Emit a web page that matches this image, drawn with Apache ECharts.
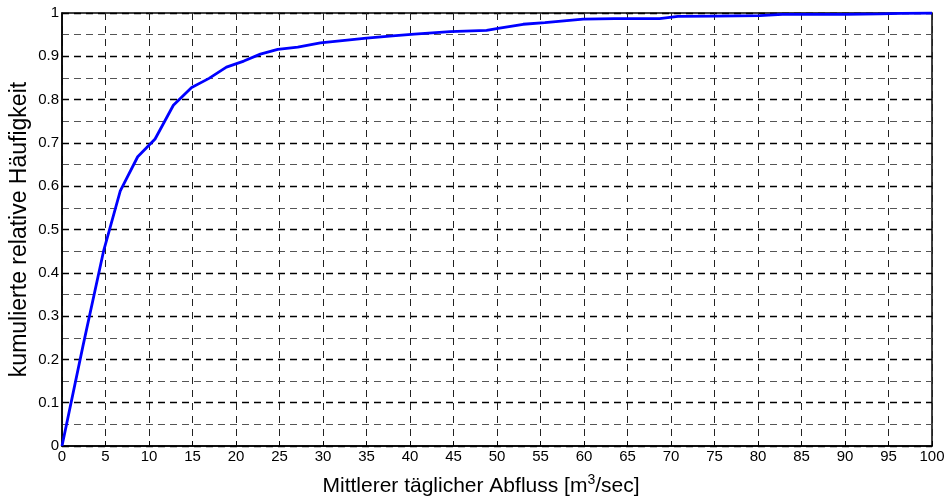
<!DOCTYPE html>
<html><head><meta charset="utf-8">
<script src="https://cdn.jsdelivr.net/npm/echarts@6/dist/echarts.min.js"></script>
<style>html,body{margin:0;padding:0;background:#fff}#c{width:949px;height:501px}</style>
</head><body><div id="c"></div>
<script>
const flowX = [0, 2.4, 4.8, 6.7, 8.7, 10.7, 12.8, 14.9, 16.9, 18.9, 20.9, 22.8, 24.8, 27.1, 29.7, 32.5, 35, 38, 40.5, 44.6, 48.8, 50.3, 53, 55.5, 59.9, 63.5, 68.7, 70.8, 75, 80.2, 82.8, 90, 94, 96.5, 100];
const cumFreq = [0, 0.23, 0.452, 0.589, 0.668, 0.709, 0.787, 0.828, 0.849, 0.875, 0.889, 0.905, 0.916, 0.921, 0.931, 0.937, 0.942, 0.947, 0.951, 0.957, 0.960, 0.965, 0.974, 0.978, 0.986, 0.987, 0.987, 0.992, 0.993, 0.994, 0.997, 0.997, 0.998, 0.999, 1.0];
const xLabel = 'Mittlerer täglicher Abfluss [m';
const yLabel = 'kumulierte relative Häufigkeit';

const chart = echarts.init(document.getElementById('c'), null, {renderer: 'canvas'});
const font = 'Liberation Sans, Arial, sans-serif';
chart.setOption({
  animation: false,
  grid: {left: 62, right: 17, top: 13, bottom: 55, show: true, borderColor: '#000', borderWidth: 1.5, containLabel: false, outerBoundsMode: 'none'},
  xAxis: {
    type: 'value', min: 0, max: 100, interval: 5,
    name: '{a|' + xLabel + '}{s|3}{a|/sec]}', nameLocation: 'middle', nameGap: 27,
    nameTextStyle: {padding: [0, 32, 0, 0], rich: {a: {fontFamily: font, fontSize: 21, color: '#000'}, s: {fontFamily: font, fontSize: 14, color: '#000', verticalAlign: 'top', padding: [0,0,12,0]}}},
    axisLine: {show: true, lineStyle: {color: '#000', width: 1.5}},
    axisTick: {show: true, inside: true, length: 5, lineStyle: {color: '#000'}},
    axisLabel: {fontFamily: font, fontSize: 15, color: '#000', margin: 3},
    splitLine: {show: true, lineStyle: {color: '#222', type: [7, 6], width: 1}}
  },
  yAxis: {
    type: 'value', min: 0, max: 1, interval: 0.1,
    name: yLabel, nameLocation: 'middle', nameGap: 31, nameRotate: 90, nameMoveOverlap: false,
    nameTextStyle: {fontFamily: font, fontSize: 23, color: '#000'},
    axisLine: {show: true, lineStyle: {color: '#000', width: 1.5}},
    axisTick: {show: true, inside: true, length: 5, lineStyle: {color: '#000'}},
    axisLabel: {fontFamily: font, fontSize: 15, color: '#000', margin: 3, formatter: v => String(Math.round(v*10)/10)},
    splitLine: {show: true, lineStyle: {color: '#000', type: [7, 5], width: 1.3}},
    minorTick: {show: false, splitNumber: 2},
    minorSplitLine: {show: true, lineStyle: {color: '#555', type: [7, 5], width: 1}}
  },
  series: [{
    type: 'line', data: flowX.map((x, i) => [x, cumFreq[i]]),
    showSymbol: false, lineStyle: {color: '#0000ff', width: 2.8}, z: 5
  }]
});
</script></body></html>
